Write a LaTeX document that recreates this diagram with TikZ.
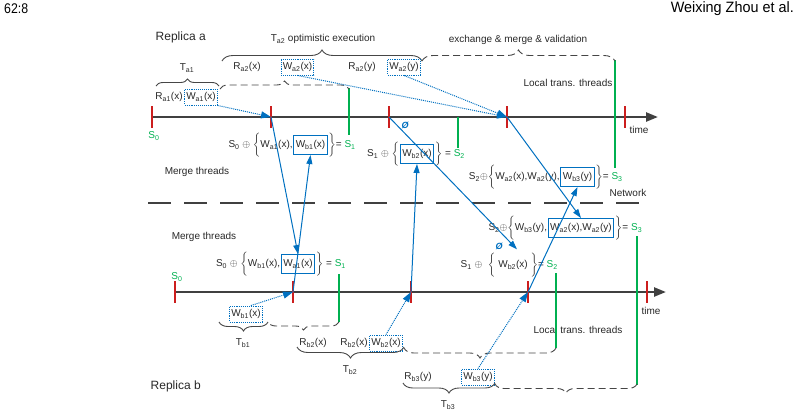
\documentclass[tikz,border=0pt]{standalone}
\usepackage{fontspec}
\setmainfont{Liberation Sans}
\usetikzlibrary{arrows.meta,decorations.pathreplacing}
\definecolor{cblue}{RGB}{0,112,192}
\definecolor{cgreen}{RGB}{0,176,80}
\definecolor{cred}{RGB}{204,30,30}
\definecolor{caxis}{RGB}{64,64,64}
\definecolor{ctext}{RGB}{40,40,40}
\definecolor{cbrace}{RGB}{70,70,70}
\newcommand\Wl[2]{W\textsubscript{#1}(#2)}
\newcommand\Rl[2]{R\textsubscript{#1}(#2)}
\newcommand\Sl[1]{S\textsubscript{#1}}
\newcommand\Tl[1]{T\textsubscript{#1}}
\newcommand\Gs[1]{\textcolor{cgreen}{S\textsubscript{#1}}}
\newcommand\LBr{\smash{$\biggl\{$}}
\newcommand\RBr{\smash{$\biggr\}$}}
\tikzset{
  lbl/.style={font=\fontsize{10}{12}\selectfont, text=ctext, inner sep=0.5pt},
  big/.style={font=\fontsize{12}{14}\selectfont, text=ctext, inner sep=0.5pt},
  wbox/.style={lbl, draw=cblue, densely dotted, line width=0.9pt, inner sep=1.5pt, minimum height=16pt},
  mbox/.style={lbl, draw=cblue, line width=1pt, inner sep=2pt, minimum height=19pt},
  axisline/.style={draw=caxis, line width=2.4pt, -{Triangle[length=12pt,width=9pt]}},
  tickline/.style={draw=cred, line width=1.6pt},
  gline/.style={draw=cgreen, line width=1.1pt},
  sarrow/.style={draw=cblue, line width=1pt, -{Triangle[length=9pt,width=6pt]}},
  darrow/.style={draw=cblue, densely dotted, line width=1pt, -{Triangle[length=10pt,width=7pt]}},
  brc/.style={draw=cbrace, line width=0.9pt, decorate, decoration={brace, amplitude=#1}},
  brc/.default=8,
  dbrc/.style={draw=cbrace, line width=0.9pt, dash pattern=on 7pt off 4pt, decorate, decoration={brace, amplitude=#1}},
  dbrc/.default=8,
  sepline/.style={draw=caxis, line width=2.8pt, dash pattern=on 23pt off 13pt},
  empty/.style={text=cblue, font=\fontsize{9}{10}\selectfont\bfseries\itshape, inner sep=0pt}
}
\begin{document}
\begin{tikzpicture}[x=1pt,y=-1pt]
\useasboundingbox (0,0) rectangle (801,416);

% header
\node[anchor=west, inner sep=0pt, font=\fontsize{14}{16}\selectfont] (pg) at (4,9) {\scalebox{0.88}[1]{62:8}};
\node[anchor=east, inner sep=0pt, font=\fontsize{15}{17}\selectfont] (au) at (794,9) {\scalebox{0.96}[1]{Weixing Zhou et al.}};

% replica labels
\node[big, anchor=west] (repA) at (155,37) {Replica a};
\node[big, anchor=west] (repB) at (150,386) {Replica b};

% time axes
\coordinate (aS) at (152,117); \coordinate (aE) at (658,117);
\coordinate (bS) at (175,292); \coordinate (bE) at (666,292);
\draw[axisline] (aS) -- (aE);
\draw[axisline] (bS) -- (bE);
\coordinate (ta0) at (152,117); \coordinate (ta1) at (271,117); \coordinate (ta2) at (389,117);
\coordinate (ta3) at (507,117); \coordinate (ta4) at (625,117);
\coordinate (tb0) at (175,292); \coordinate (tb1) at (293,292); \coordinate (tb2) at (411,292);
\coordinate (tb3) at (528,292); \coordinate (tb4) at (647,292);
\foreach \t in {ta0,ta1,ta2,ta3,ta4,tb0,tb1,tb2,tb3,tb4}
  \draw[tickline] ([yshift=11pt]\t) -- ([yshift=-11pt]\t);
\node[lbl] (timeA) at (639,130) {time};
\node[lbl] (timeB) at (651,311) {time};

% network separator
\draw[sepline] (148,203) -- (652,203);
\node[lbl] (net) at (628,193) {Network};
\node[lbl] (mtA) at (197,172) {Merge threads};
\node[lbl] (mtB) at (204,237) {Merge threads};
\node[lbl] (ltA) at (568,83) {Local trans. threads};
\node[lbl] (ltB) at (578,330) {Local trans. threads};

% green state lines
\draw[gline] (349,88) -- (349,135);
\draw[gline] (458,117) -- (458,148);
\draw[gline] (615,60) -- (615,168);
\draw[gline] (339,274) -- (339,322);
\draw[gline] (556,273) -- (556,348);
\draw[gline] (637,236) -- (637,385);
\node[lbl, text=cgreen] (sa0) at (154,136) {S\textsubscript{0}};
\node[lbl, text=cgreen] (sb0) at (177,277) {S\textsubscript{0}};

% ---- replica a transactions
\node[lbl] (ta2lbl) at (323,39) {\Tl{a2} optimistic execution};
\node[lbl] (emv) at (518,40) {exchange \& merge \& validation};
\draw[brc=11] (222,61) -- (422,61);
\draw[dbrc=11] (422,61) -- (615,61);
\node[lbl] (ta1lbl) at (187,68) {\Tl{a1}};
\draw[brc=7] (156,86) -- (219,86);
\draw[dbrc=8] (220,89) -- (349,89);
\node[lbl] (ra2x) at (247,67) {\Rl{a2}{x}};
\node[wbox] (wa2x) at (297.5,67) {\Wl{a2}{x}};
\node[lbl] (ra2y) at (362,67) {\Rl{a2}{y}};
\node[wbox] (wa2y) at (404,67) {\Wl{a2}{y}};
\node[lbl] (ra1x) at (169,97) {\Rl{a1}{x}};
\node[wbox] (wa1x) at (201,97) {\Wl{a1}{x}};

% ---- replica b transactions
\node[wbox] (wb1x) at (246,314) {\Wl{b1}{x}};
\draw[brc=9] (268,322) -- (219,322);
\draw[dbrc=8] (339,322) -- (268,322);
\node[lbl] (tb1lbl) at (243,343) {\Tl{b1}};
\node[lbl] (rb2xa) at (313,343) {\Rl{b2}{x}};
\node[lbl] (rb2xb) at (354,343) {\Rl{b2}{x}};
\node[wbox] (wb2x) at (386,343) {\Wl{b2}{x}};
\draw[brc=11] (404,347) -- (297,347);
\draw[dbrc=10] (556,348) -- (404,348);
\node[lbl] (tb2lbl) at (350,370) {\Tl{b2}};
\node[lbl] (rb3y) at (418,377) {\Rl{b3}{y}};
\node[wbox] (wb3y) at (478,377) {\Wl{b3}{y}};
\draw[brc=10] (495,383) -- (403,383);
\draw[dbrc=9] (637,384) -- (495,384);
\node[lbl] (tb3lbl) at (448,405) {\Tl{b3}};

% ---- merge rows, replica a
\node[mbox] (mA1) at (310.5,145) {\Wl{b1}{x}};
\node[lbl, anchor=east] (mA1L) at (mA1.west) {\Sl{0} $\oplus$ \LBr\Wl{a1}{x},};
\node[lbl, anchor=west] (mA1R) at (mA1.east) {\RBr= \Gs{1}};
\node[mbox] (mA2) at (417,154) {\Wl{b2}{x}};
\node[lbl, anchor=east] (mA2L) at (mA2.west) {\Sl{1} $\oplus$ \LBr};
\node[lbl, anchor=west] (mA2R) at (mA2.east) {\RBr{} = \Gs{2}};
\node[mbox] (mA3) at (577.5,177) {\Wl{b3}{y}};
\node[lbl, anchor=east] (mA3L) at (mA3.west) {\Sl{2}$\oplus$\LBr\Wl{a2}{x},\Wl{a2}{y},};
\node[lbl, anchor=west] (mA3R) at (mA3.east) {\RBr= \Gs{3}};

% ---- merge rows, replica b
\node[mbox] (mB1) at (298,264) {\Wl{a1}{x}};
\node[lbl, anchor=east] (mB1L) at (mB1.west) {\Sl{0} $\oplus$ \LBr\Wl{b1}{x},};
\node[lbl, anchor=west] (mB1R) at (mB1.east) {\RBr{} = \Gs{1}};
\node[mbox] (mB2) at (581,228) {\Wl{a2}{x},\Wl{a2}{y}};
\node[lbl, anchor=east] (mB2L) at (mB2.west) {\Sl{2}$\oplus$\LBr\Wl{b3}{y},};
\node[lbl, anchor=west] (mB2R) at (mB2.east) {\RBr= \Gs{3}};
\node[lbl, inner sep=2pt, minimum height=19pt] (mB3) at (513,265) {\Wl{b2}{x}};
\node[lbl, anchor=east] (mB3L) at (mB3.west) {\Sl{1} $\oplus$ \ \LBr};
\node[lbl, anchor=west] (mB3R) at (mB3.east) {\RBr= \Gs{2}};

% empty-set marks
\node[empty] (e1) at (405,125) {Ø};
\node[empty] (e2) at (499,246) {Ø};

% dotted local-write arrows
\draw[darrow] (wa1x.south east) -- (ta1);
\draw[darrow] (wa2x.south) -- (ta3);
\draw[darrow] (wa2y.south) -- (ta3);
\draw[darrow] (wb1x.60) -- (tb1);
\draw[darrow] (wb2x.north) -- (tb2);
\draw[darrow] (wb3y.north) -- (tb3);

% solid exchange arrows
\draw[sarrow] (ta1) -- (mB1.north);
\draw[sarrow] (tb1) -- (mA1.south);
\draw[sarrow] (ta2) -- ([xshift=4pt,yshift=6pt]mB3.north);
\draw[sarrow] (tb2) -- (mA2.south);
\draw[sarrow] (ta3) -- (mB2.north);
\draw[sarrow] (tb3) -- (mA3.south);
\end{tikzpicture}
\end{document}
